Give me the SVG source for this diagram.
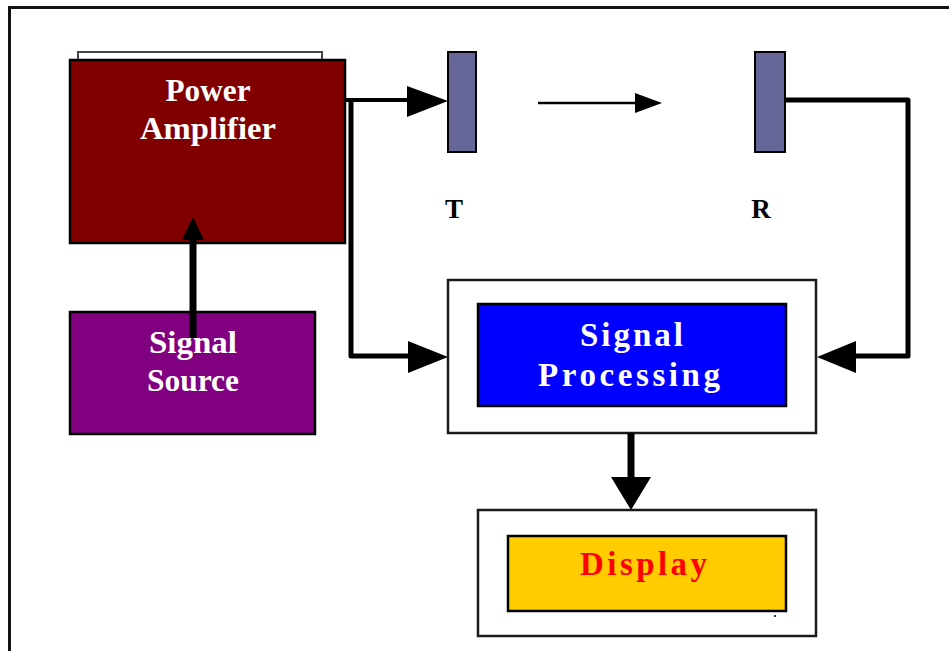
<svg xmlns="http://www.w3.org/2000/svg" width="949" height="651" viewBox="0 0 949 651">
  <style>
    .lbl { font-family: "Liberation Serif", "Times New Roman", serif; font-weight: bold; }
    .pal { font-size: 31px; fill: #ffffff; text-anchor: middle; }
    .tr { font-size: 27px; fill: #000000; text-anchor: middle; }
    .box { stroke: #000000; stroke-width: 2.5; }
    .frame { fill: #ffffff; stroke: #1a1a1a; stroke-width: 2.5; }
    .ant { fill: #666699; stroke: #000000; stroke-width: 2; }
    .conn { fill: none; stroke: #000000; stroke-linejoin: round; }
    .head { fill: #000000; }
  </style>
  <rect x="0" y="0" width="949" height="651" fill="#ffffff"/>
  <path d="M9.5,651 V7.5 H949" fill="none" stroke="#111111" stroke-width="3"/>

  <g id="power-amplifier">
    <rect x="78" y="52" width="244" height="12" fill="#ffffff" stroke="#444444" stroke-width="2"/>
    <rect class="box" x="70" y="60" width="275" height="183" fill="#800000"/>
    <text class="lbl pal" x="208" y="101" textLength="85" lengthAdjust="spacingAndGlyphs">Power</text>
    <text class="lbl pal" x="208" y="139" textLength="136" lengthAdjust="spacingAndGlyphs">Amplifier</text>
  </g>

  <g id="signal-source">
    <rect class="box" x="70" y="312" width="245" height="122" fill="#800080"/>
    <text class="lbl pal" x="193" y="353" textLength="88" lengthAdjust="spacingAndGlyphs">Signal</text>
    <text class="lbl pal" x="193" y="391" textLength="92" lengthAdjust="spacingAndGlyphs">Source</text>
  </g>

  <g id="transmitter">
    <rect class="ant" x="448" y="52" width="28" height="100"/>
    <text class="lbl tr" x="454" y="218">T</text>
  </g>

  <g id="receiver">
    <rect class="ant" x="755" y="52" width="30" height="100"/>
    <text class="lbl tr" x="761" y="218">R</text>
  </g>

  <g id="signal-processing">
    <rect class="frame" x="448" y="280" width="368" height="153"/>
    <rect class="box" x="478" y="304" width="308" height="102" fill="#0000ff"/>
    <text class="lbl" x="580" y="346" font-size="33" fill="#ffffff" textLength="103" lengthAdjust="spacing">Signal</text>
    <text class="lbl" x="538" y="386" font-size="33" fill="#ffffff" textLength="182" lengthAdjust="spacing">Processing</text>
  </g>

  <g id="display">
    <rect class="frame" x="478" y="510" width="338" height="126"/>
    <rect class="box" x="508" y="536" width="278" height="75" fill="#ffcc00"/>
    <text class="lbl" x="580" y="575" font-size="33" fill="#ff0000" textLength="127" lengthAdjust="spacing">Display</text>
    <rect x="774" y="615" width="2" height="2" fill="#333333"/>
  </g>

  <g id="connectors">
    <!-- Signal Source to Power Amplifier -->
    <path class="conn" d="M193,338 V238" stroke-width="7"/>
    <polygon class="head" points="182,240 204,240 193,217"/>
    <!-- Power Amplifier to T -->
    <path class="conn" d="M345,100 H410" stroke-width="4"/>
    <polygon class="head" points="407,86 407,117 448,101"/>
    <!-- Power Amplifier branch to Signal Processing -->
    <path class="conn" d="M351,100 V356 H410" stroke-width="5"/>
    <polygon class="head" points="408,341 408,373 448,357"/>
    <!-- propagation T to R -->
    <path class="conn" d="M538,103 H640" stroke-width="2.5"/>
    <polygon class="head" points="635,93 635,113 662,103"/>
    <!-- R to Signal Processing -->
    <path class="conn" d="M785,100 H908 V356 H852" stroke-width="5"/>
    <polygon class="head" points="856,341 856,373 817,357"/>
    <!-- Signal Processing to Display -->
    <path class="conn" d="M631,433 V480" stroke-width="7"/>
    <polygon class="head" points="611,477 651,477 631,510"/>
  </g>
</svg>
